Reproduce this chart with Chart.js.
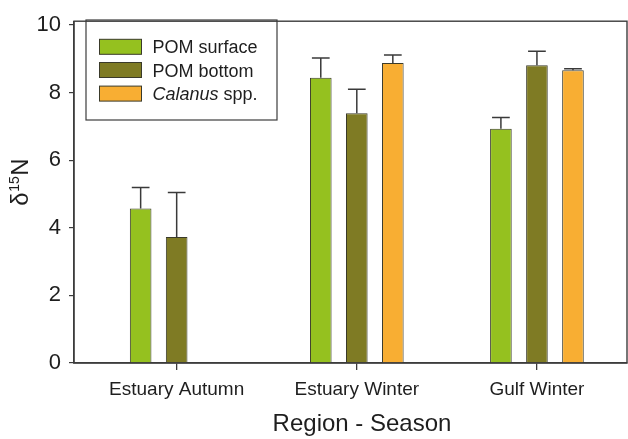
<!DOCTYPE html>
<html>
<head>
<meta charset="utf-8">
<script src="https://cdn.jsdelivr.net/npm/chart.js@4.4.1/dist/chart.umd.min.js"></script>
<style>
  html, body { margin: 0; padding: 0; background: #ffffff; }
  #wrap { width: 628px; height: 439px; }
</style>
</head>
<body>
<div id="wrap"><canvas id="c" width="628" height="439"></canvas></div>
<script>
// ---- data ----
const categories = ["Estuary Autumn", "Estuary Winter", "Gulf Winter"];
const seriesNames = ["POM surface", "POM bottom", "Calanus spp."];
const pomSurface = [4.57, 8.44, 6.93];
const pomSurfaceErr = [0.62, 0.58, 0.33];
const pomBottom = [3.73, 7.39, 8.81];
const pomBottomErr = [1.31, 0.71, 0.41];
const calanus = [null, 8.87, 8.66];
const calanusErr = [null, 0.24, 0.04];
const yTicks = [0, 2, 4, 6, 8, 10];

const FONT = "'Liberation Sans', Arial, Helvetica, sans-serif";
const colors = ["#95c11f", "#7f7b24", "#f8ae33"];
const edge = "#3a3a2a";
const axisColor = "#3c3c3c";

function toXY(arr) { return arr.map((v, i) => ({ x: i, y: v })); }

const datasets = [
  { label: seriesNames[0], data: toXY(pomSurface), err: pomSurfaceErr },
  { label: seriesNames[1], data: toXY(pomBottom), err: pomBottomErr },
  { label: seriesNames[2], data: toXY(calanus), err: calanusErr }
].map((d, i) => Object.assign(d, {
  backgroundColor: colors[i],
  borderColor: edge,
  borderWidth: 1,
  borderSkipped: 'bottom',
  categoryPercentage: 0.6,
  barPercentage: 0.6
}));

const errorBars = {
  id: 'errorBars',
  afterDatasetsDraw(chart) {
    const ctx = chart.ctx;
    const y = chart.scales.y;
    ctx.save();
    ctx.strokeStyle = "#3a3a3a";
    ctx.lineWidth = 1.5;
    chart.data.datasets.forEach((ds, di) => {
      const meta = chart.getDatasetMeta(di);
      meta.data.forEach((bar, j) => {
        const v = ds.data[j].y, e = ds.err[j];
        if (v == null || e == null) return;
        const y0 = y.getPixelForValue(v);
        const y1 = y.getPixelForValue(v + e);
        const half = bar.width * 0.41;
        ctx.beginPath();
        ctx.moveTo(bar.x, y0);
        ctx.lineTo(bar.x, y1);
        ctx.moveTo(bar.x - half, y1);
        ctx.lineTo(bar.x + half, y1);
        ctx.stroke();
      });
    });
    ctx.restore();
  }
};

const frameAndText = {
  id: 'frameAndText',
  afterDraw(chart) {
    const ctx = chart.ctx;
    const a = chart.chartArea;
    ctx.save();
    // frame
    ctx.strokeStyle = axisColor;
    ctx.lineWidth = 1.4;
    ctx.strokeRect(a.left, a.top, a.right - a.left, a.bottom - a.top);
    // legend box
    ctx.lineWidth = 1.2;
    ctx.strokeRect(86, 20, 191, 100);
    const rows = [46.8, 70, 93.6];
    chart.data.datasets.forEach((ds, i) => {
      ctx.fillStyle = ds.backgroundColor;
      ctx.fillRect(99.5, rows[i] - 7.5, 42, 15);
      ctx.strokeStyle = edge;
      ctx.lineWidth = 1;
      ctx.strokeRect(99.5, rows[i] - 7.5, 42, 15);
      ctx.fillStyle = "#1e1e1e";
      ctx.textBaseline = 'alphabetic';
      ctx.textAlign = 'left';
      const by = rows[i] + 6.6;
      if (ds.label.startsWith("Calanus")) {
        const parts = ds.label.split(" ");
        ctx.font = "italic 18px " + FONT;
        ctx.fillText(parts[0], 152.5, by);
        const w = ctx.measureText(parts[0] + " ").width;
        ctx.font = "18px " + FONT;
        ctx.fillText(parts.slice(1).join(" "), 152.5 + w, by);
      } else {
        ctx.font = "18px " + FONT;
        ctx.fillText(ds.label, 152.5, by);
      }
    });
    // x axis title
    ctx.fillStyle = "#1e1e1e";
    ctx.font = "24px " + FONT;
    ctx.textAlign = 'center';
    ctx.fillText("Region - Season", 362, 431);
    // y axis title: delta 15 N
    ctx.translate(28, 182);
    ctx.rotate(-Math.PI / 2);
    ctx.textAlign = 'left';
    ctx.font = "24px " + FONT;
    const wD = ctx.measureText("δ").width;
    ctx.font = "14px " + FONT;
    const w15 = ctx.measureText("15").width;
    ctx.font = "24px " + FONT;
    const wN = ctx.measureText("N").width;
    let x0 = -(wD + w15 + 1 + wN) / 2;
    ctx.fillText("δ", x0, 0);
    ctx.font = "14px " + FONT;
    ctx.fillText("15", x0 + wD + 0.5, -9);
    ctx.font = "24px " + FONT;
    ctx.fillText("N", x0 + wD + w15 + 1, 0);
    ctx.restore();
  }
};

new Chart(document.getElementById('c'), {
  type: 'bar',
  data: { datasets },
  options: {
    responsive: false,
    animation: false,
    events: [],
    layout: { padding: { top: 10, right: 1, left: 0, bottom: 0 } },
    plugins: { legend: { display: false }, tooltip: { enabled: false } },
    scales: {
      x: {
        type: 'linear',
        min: -0.57,
        max: 2.5,
        offset: false,
        afterBuildTicks(s) { s.ticks = categories.map((c, i) => ({ value: i })); },
        afterFit(s) { s.height = 76; },
        ticks: {
          autoSkip: false,
          maxRotation: 0,
          padding: 8,
          color: "#1e1e1e",
          font: { family: FONT, size: 19 },
          callback: (v) => categories[v]
        },
        grid: { display: true, offset: false, drawOnChartArea: false, drawTicks: true, tickLength: 7, color: axisColor, lineWidth: 1.3 },
        border: { display: true, color: axisColor, width: 1.4 }
      },
      y: {
        type: 'linear',
        min: 0,
        max: 10.11,
        afterBuildTicks(s) { s.ticks = yTicks.map(v => ({ value: v })); },
        afterFit(s) { s.width = 74; },
        ticks: {
          padding: 8,
          color: "#1e1e1e",
          font: { family: FONT, size: 22 },
          callback: (v) => String(v)
        },
        grid: { display: true, offset: false, drawOnChartArea: false, drawTicks: true, tickLength: 5, color: axisColor, lineWidth: 1.2 },
        border: { display: true, color: axisColor, width: 1.4 }
      }
    }
  },
  plugins: [errorBars, frameAndText]
});
</script>
</body>
</html>
